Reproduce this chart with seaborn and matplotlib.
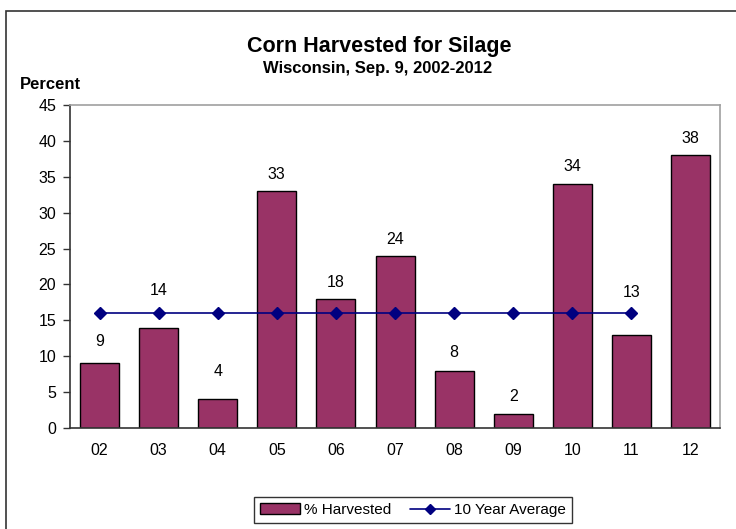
import matplotlib
matplotlib.use("Agg")
import matplotlib.pyplot as plt
import seaborn as sns
import pandas as pd
import numpy as np
from matplotlib.patches import Rectangle
from matplotlib.lines import Line2D
from matplotlib.patches import Patch

years = ["02", "03", "04", "05", "06", "07", "08", "09", "10", "11", "12"]
harvested = [9, 14, 4, 33, 18, 24, 8, 2, 34, 13, 38]
avg_years = ["02", "03", "04", "05", "06", "07", "08", "09", "10", "11"]
avg_values = [16, 16, 16, 16, 16, 16, 16, 16, 16, 16]
yticks = [0, 5, 10, 15, 20, 25, 30, 35, 40, 45]
label_offsets_px = [22, 37, 28, 17, 16, 16, 18, 17, 17, 42, 17]

sns.set_theme(style="white")
plt.rcParams["font.family"] = ["Liberation Sans", "DejaVu Sans"]
plt.rcParams["text.color"] = "black"
plt.rcParams["xtick.labelcolor"] = "black"
plt.rcParams["ytick.labelcolor"] = "black"

bar_color = "#993366"
line_color = "#000080"

fig = plt.figure(figsize=(7.36, 5.29), dpi=100)
ax = fig.add_axes([70/736, 1-428/529, 650/736, 323/529])

df = pd.DataFrame({"year": years, "pct": harvested})
sns.barplot(data=df, x="year", y="pct", ax=ax, color=bar_color, width=0.66,
            edgecolor="black", linewidth=1.0, saturation=1)

xpos = [years.index(y) for y in avg_years]
ax.plot(xpos, avg_values, color=line_color, lw=1.2, marker="D", ms=6,
        markerfacecolor=line_color, markeredgecolor=line_color)

for i, (v, off) in enumerate(zip(harvested, label_offsets_px)):
    ax.annotate(str(v), (i, v), xytext=(0, off), textcoords="offset pixels",
                ha="center", va="center", fontsize=11.5, color="black")

ax.set_xlim(-0.5, len(years) - 0.5)
ax.set_ylim(0, 45)
ax.set_yticks(yticks)
ax.set_yticklabels([str(t) for t in yticks], fontsize=11.5, color="black")
ax.set_xticks(range(len(years)))
ax.set_xticklabels(years, fontsize=11.5, color="black")
ax.set_xticks(np.arange(-0.5, len(years), 1.0), minor=True)
ax.tick_params(axis="x", which="major", length=0, pad=11)
ax.tick_params(axis="x", which="minor", length=7, direction="inout", width=1, color="#333333")
ax.tick_params(axis="y", which="major", length=5, direction="out", width=1, color="#333333", pad=5, left=True)
ax.set_xlabel("")
ax.set_ylabel("")

for s in ["left", "bottom"]:
    ax.spines[s].set_color("#333333")
    ax.spines[s].set_linewidth(1.2)
for s in ["top", "right"]:
    ax.spines[s].set_color("#a0a0a0")
    ax.spines[s].set_linewidth(1.2)
ax.grid(False)

fig.text(379/736, 1-52/529, "Corn Harvested for Silage", ha="center", va="baseline",
         fontsize=15.5, fontweight="bold", color="black")
fig.text(378/736, 1-73/529, "Wisconsin, Sep. 9, 2002-2012", ha="center", va="baseline",
         fontsize=12, fontweight="bold", color="black")
fig.text(20/736, 1-89/529, "Percent", ha="left", va="baseline", fontsize=12,
         fontweight="bold", color="black")

fig.patches.append(Rectangle((6/736, -0.05), 1.1, 1-11/529 + 0.05, transform=fig.transFigure,
                             fill=False, edgecolor="#333333", linewidth=1.2))

handles = [Patch(facecolor=bar_color, edgecolor="black", linewidth=1.0),
           Line2D([0], [0], color=line_color, lw=1.2, marker="D", ms=5,
                  markerfacecolor=line_color)]
leg = fig.legend(handles, ["% Harvested", "10 Year Average"], loc="center",
                 bbox_to_anchor=(413/736, 1-510/529), ncol=2, frameon=True,
                 fancybox=False, edgecolor="black", fontsize=11,
                 handlelength=2.6, handletextpad=0.3, columnspacing=1.2,
                 borderpad=0.4, labelcolor="black")
leg.get_frame().set_linewidth(1.0)

fig.savefig("out.png", dpi=100)
